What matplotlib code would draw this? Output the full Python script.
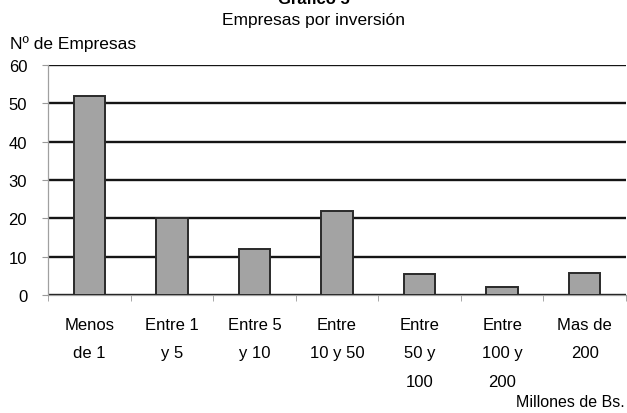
import matplotlib.pyplot as plt
import numpy as np

plt.rcParams['font.family'] = ['Liberation Sans', 'DejaVu Sans']

categorias = ["Menos\nde 1", "Entre 1\ny 5", "Entre 5\ny 10", "Entre\n10 y 50",
              "Entre\n50 y\n100", "Entre\n100 y\n200", "Mas de\n200"]
empresas = [52, 20, 12, 22, 5.4, 2.2, 5.8]
y_ticks = [0, 10, 20, 30, 40, 50, 60]

fig = plt.figure(figsize=(6.27, 4.14), dpi=100)
ax = fig.add_axes([48/627, 1 - 296/414, 578/627, 230/414])

x = np.arange(len(categorias))
ax.set_axisbelow(True)
ax.yaxis.grid(True, color="#151515", linewidth=1.7)
ax.bar(x, empresas, width=0.38, color="#a3a3a3", edgecolor="#2a2a2a", linewidth=1.4, zorder=3)

ax.set_xlim(-0.5, len(categorias) - 0.5)
ax.set_ylim(0, 60)
ax.set_yticks(y_ticks)
ax.set_xticks(x)
ax.set_xticklabels(categorias, fontsize=12, linespacing=2.1, va="top")
ax.set_xticks(np.arange(len(categorias) + 1) - 0.5, minor=True)
ax.tick_params(axis="x", which="major", length=0, pad=16)
ax.tick_params(axis="x", which="minor", length=4, color="#9a9a9a", direction="out")
ax.tick_params(axis="y", length=4, color="#9a9a9a", labelsize=12, pad=11)

for s in ["top", "right"]:
    ax.spines[s].set_visible(False)
for s in ["left", "bottom"]:
    ax.spines[s].set_color("#a0a0a0")
    ax.spines[s].set_linewidth(0.9)

fig.text(0.5, 1.0, "Gráfico 5", ha="center", va="center", fontsize=12, fontweight="bold")
fig.text(0.5, 1 - 20/414, "Empresas por inversión", ha="center", va="center", fontsize=12.5)
fig.text(10/627, 1 - 44/414, "Nº de Empresas", ha="left", va="center", fontsize=12.5)
fig.text(570/627, 1 - 403/414, "Millones de Bs.", ha="center", va="center", fontsize=11.5)

fig.savefig("out.png", dpi=100)
